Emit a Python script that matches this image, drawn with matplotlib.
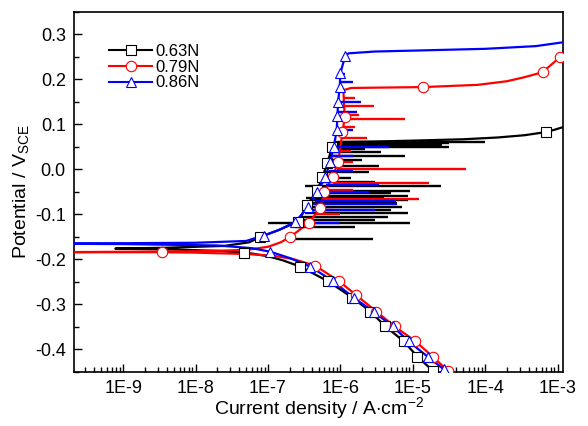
import numpy as np
import matplotlib
matplotlib.use('Agg')
import matplotlib.pyplot as plt
from matplotlib.lines import Line2D
from matplotlib.ticker import FixedLocator, FixedFormatter, LogLocator, NullFormatter, MultipleLocator

plt.rcParams['font.family'] = ['Liberation Sans', 'DejaVu Sans']
plt.rcParams['mathtext.fontset'] = 'custom'
plt.rcParams['mathtext.rm'] = 'Liberation Sans'

labels = ['0.63N', '0.79N', '0.86N']
colors = ['black', 'red', 'blue']
markers = ['s', 'o', '^']

# polarisation curves, cathodic end first: current density (A/cm2), potential (V vs SCE)
i_063 = [2.1e-5, 1.88e-5, 1.16e-5, 7.5e-6, 4.2e-6, 2.6e-6, 1.47e-6, 6.8e-7, 2.8e-7, 1.6e-7,
         1.0e-7, 6.0e-8, 4.6e-8, 2.0e-8, 5.0e-9, 7.8e-10, 4.0e-9, 2.5e-8, 5.5e-8, 7.85e-8,
         1.3e-7, 2.0e-7, 2.6e-7, 3.5e-7, 4.8e-7, 5.65e-7, 6.6e-7, 7.7e-7, 8.2e-7, 1.0e-6,
         3.0e-6, 1.0e-5, 5.0e-5, 1.5e-4, 3.5e-4, 6.9e-4, 9.0e-4, 1.25e-3]
e_063 = [-0.455, -0.447, -0.416, -0.382, -0.349, -0.316, -0.285, -0.249, -0.216, -0.202,
         -0.193, -0.187, -0.185, -0.181, -0.178, -0.176, -0.174, -0.170, -0.162, -0.150,
         -0.137, -0.124, -0.116, -0.079, -0.046, -0.017, 0.014, 0.050, 0.058, 0.061,
         0.062, 0.064, 0.067, 0.071, 0.076, 0.083, 0.088, 0.095]

i_079 = [3.3e-5, 3.03e-5, 1.88e-5, 1.09e-5, 5.6e-6, 3.15e-6, 1.67e-6, 9.7e-7, 4.5e-7, 2.2e-7,
         1.2e-7, 5.0e-8, 1.0e-8, 3.4e-9, 1.0e-10, 1.0e-9, 1.0e-8, 5.0e-8, 1.0e-7, 1.5e-7,
         2.04e-7, 3.7e-7, 5.3e-7, 6.0e-7, 7.8e-7, 9.3e-7, 1.0e-6, 1.07e-6, 1.15e-6, 1.12e-6,
         1.1e-6, 1.4e-6, 1.4e-5, 8.0e-5, 2.0e-4, 3.5e-4, 6.2e-4, 1.07e-3, 1.25e-3]
e_079 = [-0.455, -0.447, -0.416, -0.382, -0.349, -0.316, -0.280, -0.249, -0.214, -0.199,
         -0.192, -0.188, -0.185, -0.184, -0.184, -0.183, -0.182, -0.179, -0.172, -0.162,
         -0.150, -0.118, -0.085, -0.050, -0.017, 0.016, 0.050, 0.083, 0.116, 0.150,
         0.176, 0.181, 0.183, 0.188, 0.196, 0.205, 0.216, 0.249, 0.255]

i_086 = [2.9e-5, 2.67e-5, 1.6e-5, 8.75e-6, 5.3e-6, 2.87e-6, 1.52e-6, 8.0e-7, 3.85e-7, 2.0e-7,
         1.08e-7, 6.0e-8, 2.0e-8, 1.0e-9, 1.0e-10, 1.0e-9, 1.0e-8, 5.0e-8, 8.7e-8, 1.5e-7,
         2.4e-7, 3.6e-7, 4.8e-7, 6.2e-7, 7.2e-7, 8.1e-7, 8.9e-7, 9.1e-7, 9.3e-7, 9.8e-7,
         1.0e-6, 1.17e-6, 1.3e-6, 3.0e-6, 1.0e-5, 1.0e-4, 5.0e-4, 1.25e-3]
e_086 = [-0.452, -0.444, -0.416, -0.382, -0.349, -0.316, -0.285, -0.249, -0.216, -0.197,
         -0.183, -0.175, -0.169, -0.166, -0.165, -0.164, -0.163, -0.159, -0.147, -0.133,
         -0.116, -0.083, -0.050, -0.017, 0.016, 0.050, 0.087, 0.118, 0.149, 0.183,
         0.214, 0.253, 0.258, 0.262, 0.264, 0.268, 0.274, 0.283]

# symbol positions
mk_i_063 = [4.6e-8, 2.8e-7, 6.8e-7, 1.47e-6, 2.6e-6, 4.2e-6, 7.5e-6, 1.16e-5, 1.88e-5,
            7.85e-8, 2.6e-7, 3.5e-7, 4.8e-7, 5.65e-7, 6.6e-7, 7.7e-7, 6.9e-4]
mk_e_063 = [-0.185, -0.216, -0.249, -0.285, -0.316, -0.349, -0.382, -0.416, -0.447,
            -0.150, -0.116, -0.079, -0.046, -0.017, 0.014, 0.050, 0.083]
mk_i_079 = [3.4e-9, 4.5e-7, 9.7e-7, 1.67e-6, 3.15e-6, 5.6e-6, 1.09e-5, 1.88e-5, 3.03e-5,
            2.04e-7, 3.7e-7, 5.3e-7, 6.0e-7, 7.8e-7, 9.3e-7, 1.07e-6, 1.15e-6, 1.4e-5, 6.2e-4, 1.07e-3]
mk_e_079 = [-0.184, -0.214, -0.249, -0.280, -0.316, -0.349, -0.382, -0.416, -0.447,
            -0.150, -0.118, -0.085, -0.050, -0.017, 0.016, 0.083, 0.116, 0.183, 0.216, 0.249]
mk_i_086 = [1.08e-7, 3.85e-7, 8.0e-7, 1.52e-6, 2.87e-6, 5.3e-6, 8.75e-6, 1.6e-5, 2.67e-5,
            8.7e-8, 2.4e-7, 3.6e-7, 4.8e-7, 6.2e-7, 7.2e-7, 8.1e-7, 8.9e-7, 9.1e-7, 9.3e-7,
            9.8e-7, 1.0e-6, 1.17e-6]
mk_e_086 = [-0.183, -0.216, -0.249, -0.285, -0.316, -0.349, -0.382, -0.416, -0.444,
            -0.147, -0.116, -0.083, -0.050, -0.017, 0.016, 0.050, 0.087, 0.118, 0.149,
            0.183, 0.214, 0.253]

# metastable pitting transients: potential, current at start, current at tip
sp_e_063 = [0.062, 0.058, 0.054, 0.050, 0.045, 0.039, 0.029, 0.020, 0.008, -0.005, -0.019,
            -0.027, -0.037, -0.047, -0.052, -0.059, -0.063, -0.068, -0.075, -0.083, -0.090,
            -0.096, -0.106, -0.112, -0.119, -0.128, -0.154]
sp_a_063 = [8.2e-7, 8.0e-7, 7.9e-7, 7.7e-7, 7.5e-7, 7.3e-7, 7.0e-7, 6.8e-7, 6.3e-7, 6.0e-7, 5.6e-7,
            5.3e-7, 3.2e-7, 4.8e-7, 4.6e-7, 4.3e-7, 3.3e-7, 4.1e-7, 3.8e-7, 3.5e-7, 3.3e-7,
            3.2e-7, 2.9e-7, 2.8e-7, 1.0e-7, 2.4e-7, 2.0e-7]
sp_b_063 = [1.0e-4, 3.2e-5, 2.5e-5, 3.2e-5, 2.2e-6, 3.6e-6, 7.9e-6, 2.0e-6, 3.4e-6, 2.5e-6, 1.4e-6,
            3.0e-6, 2.45e-5, 9.3e-6, 5.0e-6, 8.5e-6, 4.0e-6, 8.7e-6, 6.0e-6, 7.2e-6, 5.0e-6,
            8.5e-6, 4.6e-6, 3.0e-6, 9.3e-6, 1.6e-6, 2.8e-6]

sp_e_079 = [0.158, 0.142, 0.120, 0.111, 0.094, 0.070, 0.040, 0.016, 0.000, -0.030, -0.045,
            -0.066, -0.090, -0.100]
sp_a_079 = [1.1e-6, 1.1e-6, 1.1e-6, 1.1e-6, 1.1e-6, 1.05e-6, 1.0e-6, 9.3e-7, 9.0e-7, 8.0e-7,
            6.5e-7, 6.0e-7, 5.0e-7, 4.6e-7]
sp_b_079 = [1.6e-6, 2.95e-6, 1.8e-6, 7.9e-6, 1.6e-6, 2.3e-6, 1.4e-6, 1.5e-6, 5.4e-5, 1.7e-5,
            1.5e-6, 1.2e-5, 8.0e-7, 1.0e-6]

sp_e_086 = [0.213, 0.194, 0.150, 0.128, 0.087, 0.050, 0.030, -0.003, -0.035, -0.050, -0.071,
            -0.077, -0.090, -0.120]
sp_a_086 = [1.0e-6, 9.8e-7, 9.3e-7, 9.2e-7, 8.9e-7, 8.1e-7, 7.6e-7, 7.0e-7, 6.4e-7, 4.8e-7,
            4.4e-7, 4.1e-7, 3.8e-7, 2.3e-7]
sp_b_086 = [1.17e-6, 1.5e-6, 1.9e-6, 1.7e-6, 1.5e-6, 4.7e-6, 1.5e-6, 1.5e-6, 3.4e-6, 2.5e-6,
            5.8e-6, 6.0e-6, 3.0e-6, 1.0e-6]

xtick_vals = [1e-9, 1e-8, 1e-7, 1e-6, 1e-5, 1e-4, 1e-3]
xtick_labels = ['1E-9', '1E-8', '1E-7', '1E-6', '1E-5', '1E-4', '1E-3']

curves = [(i_063, e_063), (i_079, e_079), (i_086, e_086)]
marks = [(mk_i_063, mk_e_063), (mk_i_079, mk_e_079), (mk_i_086, mk_e_086)]
spikes = [(sp_e_063, sp_a_063, sp_b_063), (sp_e_079, sp_a_079, sp_b_079),
          (sp_e_086, sp_a_086, sp_b_086)]

fig = plt.figure(figsize=(5.88, 4.26), dpi=100)
ax = fig.add_axes([0.126, 0.127, 0.832, 0.845])

for k in range(3):
    ax.plot(curves[k][0], curves[k][1], color=colors[k], lw=1.6, zorder=2 + k)
    ax.hlines(spikes[k][0], spikes[k][1], spikes[k][2], color=colors[k], lw=1.7, zorder=2 + k)
for k in range(3):
    ax.plot(marks[k][0], marks[k][1], ls='none', marker=markers[k], ms=7.5,
            mfc='white', mec=colors[k], mew=0.8, zorder=6 + k)

ax.set_xscale('log')
ax.set_xlim(2.1e-10, 1.2e-3)
ax.set_ylim(-0.45, 0.35)
ax.xaxis.set_major_locator(FixedLocator(xtick_vals))
ax.xaxis.set_major_formatter(FixedFormatter(xtick_labels))
ax.xaxis.set_minor_locator(LogLocator(base=10, subs=np.arange(2, 10)))
ax.xaxis.set_minor_formatter(NullFormatter())
ax.yaxis.set_major_locator(MultipleLocator(0.1))
ax.yaxis.set_minor_locator(MultipleLocator(0.05))
ax.yaxis.set_major_formatter(plt.FuncFormatter(lambda v, p: '%.1f' % v))
ax.tick_params(which='both', direction='in', top=False, right=False, labelsize=13)
ax.tick_params(axis='x', pad=6)
ax.tick_params(axis='y', pad=6)
ax.tick_params(which='major', length=6, width=1)
ax.tick_params(which='minor', length=3.5, width=1)
for s in ax.spines.values():
    s.set_linewidth(1.2)

ax.set_xlabel('Current density / A$\\cdot$cm$^{-2}$', fontsize=14, labelpad=-1)
ax.set_ylabel('Potential / V$_{\\mathrm{SCE}}$', fontsize=14, labelpad=2)

handles = [Line2D([], [], color=colors[k], lw=1.5, marker=markers[k], ms=7.5,
                  mfc='white', mec=colors[k], mew=0.8) for k in range(3)]
ax.legend(handles, labels, loc='upper left', bbox_to_anchor=(0.058, 0.93), frameon=False,
          fontsize=12, handlelength=2.6, handletextpad=0.15, labelspacing=0.05, borderaxespad=0)

fig.savefig('out.png', dpi=100)
